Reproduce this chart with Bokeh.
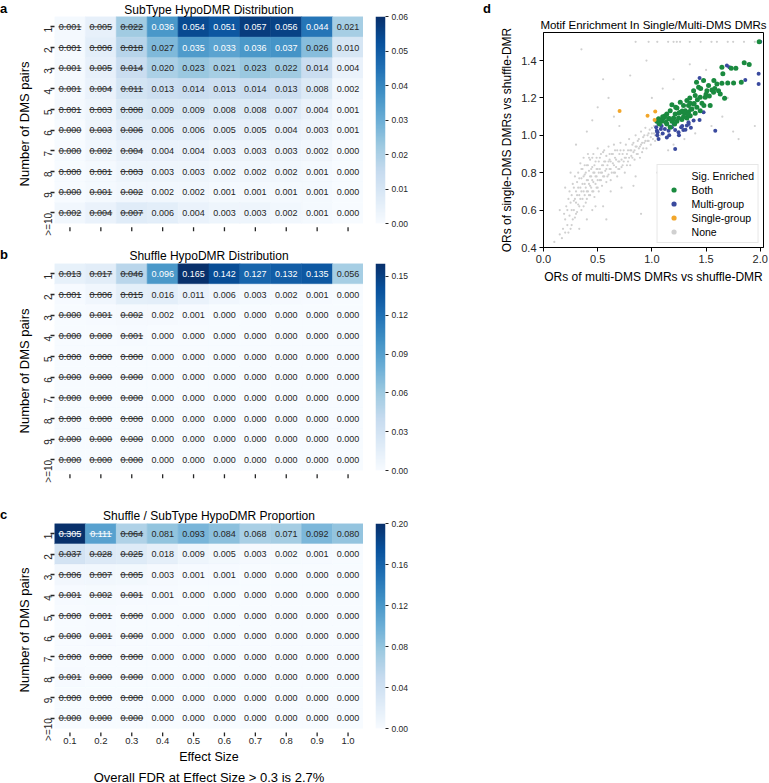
import numpy as np
from bokeh.plotting import figure
from bokeh.layouts import row, column
from bokeh.models import (ColumnDataSource, LinearColorMapper, FixedTicker, Div,
                          PrintfTickFormatter, Range1d, Title, Legend, LegendItem)
from bokeh.palettes import Blues256
from bokeh.transform import transform
from bokeh.embed import file_html
from bokeh.resources import INLINE
from bokeh.core.properties import value

# ---------------- data ----------------
effect_sizes = ["0.1", "0.2", "0.3", "0.4", "0.5", "0.6", "0.7", "0.8", "0.9", "1.0"]
struck_effect_sizes = ["0.1", "0.2", "0.3"]
dms_pairs = ["1", "2", "3", "4", "5", "6", "7", "8", "9", ">=10"]

subtype_vals = [
    [0.001, 0.005, 0.022, 0.036, 0.054, 0.051, 0.057, 0.056, 0.044, 0.021],
    [0.001, 0.006, 0.018, 0.027, 0.035, 0.033, 0.036, 0.037, 0.026, 0.010],
    [0.001, 0.005, 0.014, 0.020, 0.023, 0.021, 0.023, 0.022, 0.014, 0.004],
    [0.001, 0.004, 0.011, 0.013, 0.014, 0.013, 0.014, 0.013, 0.008, 0.002],
    [0.001, 0.003, 0.008, 0.009, 0.009, 0.008, 0.008, 0.007, 0.004, 0.001],
    [0.000, 0.003, 0.006, 0.006, 0.006, 0.005, 0.005, 0.004, 0.003, 0.001],
    [0.000, 0.002, 0.004, 0.004, 0.004, 0.003, 0.003, 0.003, 0.002, 0.000],
    [0.000, 0.001, 0.003, 0.003, 0.003, 0.002, 0.002, 0.002, 0.001, 0.000],
    [0.000, 0.001, 0.002, 0.002, 0.002, 0.001, 0.001, 0.001, 0.001, 0.000],
    [0.002, 0.004, 0.007, 0.006, 0.004, 0.003, 0.003, 0.002, 0.001, 0.000],
]
shuffle_vals = [
    [0.013, 0.017, 0.046, 0.096, 0.165, 0.142, 0.127, 0.132, 0.135, 0.056],
    [0.001, 0.006, 0.015, 0.016, 0.011, 0.006, 0.003, 0.002, 0.001, 0.000],
    [0.000, 0.001, 0.002, 0.002, 0.001, 0.000, 0.000, 0.000, 0.000, 0.000],
    [0.000, 0.000, 0.001, 0.000, 0.000, 0.000, 0.000, 0.000, 0.000, 0.000],
    [0.000, 0.000, 0.000, 0.000, 0.000, 0.000, 0.000, 0.000, 0.000, 0.000],
    [0.000, 0.000, 0.000, 0.000, 0.000, 0.000, 0.000, 0.000, 0.000, 0.000],
    [0.000, 0.000, 0.000, 0.000, 0.000, 0.000, 0.000, 0.000, 0.000, 0.000],
    [0.000, 0.000, 0.000, 0.000, 0.000, 0.000, 0.000, 0.000, 0.000, 0.000],
    [0.000, 0.000, 0.000, 0.000, 0.000, 0.000, 0.000, 0.000, 0.000, 0.000],
    [0.000, 0.000, 0.000, 0.000, 0.000, 0.000, 0.000, 0.000, 0.000, 0.000],
]
proportion_vals = [
    [0.305, 0.111, 0.064, 0.081, 0.093, 0.084, 0.068, 0.071, 0.092, 0.080],
    [0.037, 0.028, 0.025, 0.018, 0.009, 0.005, 0.003, 0.002, 0.001, 0.000],
    [0.006, 0.007, 0.005, 0.003, 0.001, 0.001, 0.000, 0.000, 0.000, 0.000],
    [0.001, 0.002, 0.001, 0.001, 0.000, 0.000, 0.000, 0.000, 0.000, 0.000],
    [0.000, 0.001, 0.000, 0.000, 0.000, 0.000, 0.000, 0.000, 0.000, 0.000],
    [0.000, 0.001, 0.000, 0.000, 0.000, 0.000, 0.000, 0.000, 0.000, 0.000],
    [0.000, 0.000, 0.000, 0.000, 0.000, 0.000, 0.000, 0.000, 0.000, 0.000],
    [0.001, 0.000, 0.000, 0.000, 0.000, 0.000, 0.000, 0.000, 0.000, 0.000],
    [0.000, 0.000, 0.000, 0.000, 0.000, 0.000, 0.000, 0.000, 0.000, 0.000],
    [0.000, 0.000, 0.000, 0.000, 0.000, 0.000, 0.000, 0.000, 0.000, 0.000],
]
subtype_vmax, shuffle_vmax, proportion_vmax = 0.06, 0.16, 0.20
subtype_cbar_ticks = [0.00, 0.01, 0.02, 0.03, 0.04, 0.05, 0.06]
shuffle_cbar_ticks = [0.00, 0.03, 0.06, 0.09, 0.12, 0.15]
proportion_cbar_ticks = [0.00, 0.04, 0.08, 0.12, 0.16, 0.20]

# scatter (d): (OR multi-DMS, OR single-DMS)
both_pts = [
    (1.99, 1.50), (1.646, 1.364), (1.732, 1.359), (1.775, 1.359), (1.852, 1.388), (1.898, 1.379),
    (1.655, 1.329), (1.572, 1.293), (1.60, 1.275), (1.646, 1.279), (1.754, 1.280), (1.825, 1.284),
    (1.412, 1.284), (1.431, 1.257), (1.477, 1.293), (1.523, 1.266), (1.554, 1.243), (1.508, 1.239),
    (1.569, 1.230), (1.615, 1.239), (1.385, 1.239), (1.40, 1.213), (1.446, 1.204), (1.492, 1.204),
    (1.631, 1.221), (1.671, 1.198), (1.538, 1.159), (1.323, 1.186), (1.354, 1.171), (1.338, 1.159),
    (1.385, 1.168), (1.415, 1.150), (1.462, 1.171), (1.369, 1.141), (1.292, 1.159), (1.262, 1.177),
    (1.231, 1.146), (1.185, 1.164), (1.308, 1.132), (1.338, 1.123), (1.262, 1.123), (1.215, 1.114),
    (1.169, 1.132), (1.138, 1.114), (1.446, 1.132), (1.40, 1.118), (1.354, 1.105), (1.292, 1.100),
    (1.246, 1.093), (1.20, 1.093), (1.154, 1.088), (1.108, 1.093), (1.062, 1.088), (1.046, 1.075),
    (1.092, 1.075), (1.185, 1.075), (1.231, 1.075), (1.138, 1.061), (1.169, 1.043), (1.277, 1.084),
    (1.323, 1.093), (1.123, 1.105), (1.077, 1.079), (1.50, 1.22), (1.58, 1.25), (1.70, 1.28),
    (1.35, 1.20), (1.28, 1.13), (1.22, 1.15), (1.16, 1.09), (1.10, 1.10), (1.25, 1.12), (1.42, 1.19),
    (1.48, 1.16), (1.36, 1.14), (1.30, 1.12), (1.19, 1.08), (1.13, 1.07), (1.07, 1.06), (1.21, 1.06),
    (1.33, 1.11), (1.39, 1.17), (1.53, 1.21), (1.45, 1.25),
]
multi_pts = [
    (2.00, 1.50), (1.44, 1.307), (1.692, 1.373), (1.715, 1.364), (1.862, 1.296), (1.985, 1.329),
    (1.985, 1.275), (1.04, 1.043), (1.046, 1.025), (1.052, 1.016), (1.06, 1.062), (1.083, 1.034),
    (1.12, 1.034), (1.154, 1.025), (1.185, 1.043), (1.215, 1.029), (1.246, 1.016), (1.29, 1.029),
    (1.323, 1.052), (1.338, 1.070), (1.27, 1.043), (1.385, 1.079), (1.138, 0.989), (1.062, 0.980),
    (1.215, 0.927), (1.585, 1.025), (1.44, 1.082), (1.477, 1.123), (1.13, 1.07), (1.20, 1.06),
    (1.10, 1.01), (1.16, 1.00), (1.28, 1.05), (1.36, 1.04), (1.05, 1.00), (1.09, 1.05), (1.25, 1.00),
    (1.31, 1.03), (1.34, 1.06),
]
single_pts = [(0.702, 1.130), (0.96, 1.105), (1.031, 1.127), (1.025, 1.082)]
none_pts = [
    (0.15, 0.47), (0.17, 0.45), (0.18, 0.50), (0.20, 0.48), (0.20, 0.55), (0.22, 0.52), (0.22, 0.60),
    (0.24, 0.57), (0.25, 0.50), (0.25, 0.64), (0.26, 0.68), (0.27, 0.55), (0.28, 0.60), (0.28, 0.72),
    (0.29, 0.66), (0.30, 0.58), (0.30, 0.70), (0.31, 0.75), (0.32, 0.63), (0.32, 0.80), (0.33, 0.68),
    (0.34, 0.72), (0.34, 0.85), (0.35, 0.60), (0.35, 0.77), (0.36, 0.66), (0.36, 0.82), (0.37, 0.70),
    (0.37, 0.88), (0.38, 0.74), (0.38, 0.79), (0.39, 0.64), (0.40, 0.70), (0.40, 0.84), (0.41, 0.76),
    (0.41, 0.90), (0.42, 0.68), (0.42, 0.81), (0.43, 0.73), (0.43, 0.87), (0.44, 0.78), (0.45, 0.70),
    (0.45, 0.83), (0.46, 0.75), (0.46, 0.90), (0.47, 0.67), (0.47, 0.80), (0.48, 0.86), (0.49, 0.72),
    (0.49, 0.78), (0.50, 0.82), (0.50, 0.93), (0.51, 0.70), (0.52, 0.76), (0.52, 0.88), (0.53, 0.80),
    (0.54, 0.84), (0.54, 0.73), (0.55, 0.91), (0.55, 0.78), (0.56, 0.86), (0.57, 0.81), (0.58, 0.75),
    (0.58, 0.89), (0.59, 0.84), (0.60, 0.79), (0.60, 0.94), (0.61, 0.87), (0.62, 0.82), (0.62, 0.76),
    (0.63, 0.90), (0.64, 0.85), (0.65, 0.80), (0.65, 0.95), (0.66, 0.88), (0.67, 0.83), (0.68, 0.92),
    (0.68, 0.78), (0.69, 0.86), (0.70, 0.90), (0.70, 0.82), (0.71, 0.96), (0.72, 0.87), (0.73, 0.84),
    (0.74, 0.92), (0.75, 0.88), (0.75, 0.80), (0.76, 0.95), (0.77, 0.90), (0.78, 0.86), (0.79, 0.98),
    (0.80, 0.92), (0.80, 0.84), (0.81, 0.89), (0.82, 0.95), (0.83, 0.91), (0.84, 0.87), (0.85, 1.00),
    (0.85, 0.94), (0.86, 0.90), (0.87, 0.97), (0.88, 0.93), (0.89, 0.88), (0.90, 1.02), (0.90, 0.95),
    (0.91, 0.91), (0.92, 0.99), (0.93, 0.96), (0.94, 1.04), (0.95, 0.93), (0.96, 1.00), (0.97, 0.97),
    (0.98, 1.03), (0.99, 0.95), (1.00, 1.01), (1.01, 0.98), (1.02, 1.05), (1.03, 1.00), (1.04, 1.03),
    (1.05, 0.99),
    (0.19, 0.58), (0.21, 0.62), (0.23, 0.48), (0.23, 0.66), (0.24, 0.70), (0.26, 0.52), (0.26, 0.60),
    (0.27, 0.74), (0.28, 0.65), (0.29, 0.56), (0.29, 0.78), (0.30, 0.64), (0.31, 0.68), (0.31, 0.59),
    (0.32, 0.72), (0.33, 0.77), (0.33, 0.62), (0.34, 0.66), (0.35, 0.70), (0.35, 0.82), (0.36, 0.74),
    (0.37, 0.62), (0.37, 0.78), (0.38, 0.68), (0.38, 0.84), (0.39, 0.72), (0.39, 0.80), (0.40, 0.76),
    (0.40, 0.66), (0.41, 0.70), (0.41, 0.84), (0.42, 0.74), (0.42, 0.88), (0.43, 0.78), (0.43, 0.68),
    (0.44, 0.82), (0.44, 0.72), (0.45, 0.76), (0.45, 0.88), (0.46, 0.80), (0.46, 0.70), (0.47, 0.84),
    (0.48, 0.74), (0.48, 0.78), (0.49, 0.82), (0.49, 0.88), (0.50, 0.76), (0.50, 0.72), (0.51, 0.80),
    (0.51, 0.86), (0.52, 0.82), (0.53, 0.76), (0.53, 0.90), (0.54, 0.80), (0.55, 0.84), (0.56, 0.78),
    (0.56, 0.92), (0.57, 0.86), (0.58, 0.82), (0.59, 0.78), (0.60, 0.86), (0.61, 0.82), (0.61, 0.90),
    (0.62, 0.86), (0.63, 0.80), (0.64, 0.90), (0.65, 0.84), (0.66, 0.80), (0.66, 0.92), (0.67, 0.87),
    (0.69, 0.82), (0.70, 0.86), (0.71, 0.92), (0.72, 0.83), (0.73, 0.90), (0.74, 0.86), (0.76, 0.88),
    (0.77, 0.84), (0.78, 0.92), (0.79, 0.88), (0.81, 0.92), (0.82, 0.88), (0.83, 0.96), (0.84, 0.92),
    (0.86, 0.94), (0.87, 0.90), (0.88, 0.98), (0.89, 0.94), (0.91, 0.96), (0.92, 0.93), (0.93, 1.00),
    (0.94, 0.97), (0.96, 0.97), (0.97, 1.01), (0.99, 0.99), (1.00, 1.04), (1.02, 1.01), (1.03, 0.97),
    (1.06, 1.02), (1.08, 1.00),
    (0.10, 0.43), (0.30, 0.95), (0.40, 1.02), (0.45, 1.08), (0.50, 1.15), (0.55, 1.30), (0.35, 1.46),
    (0.60, 1.20), (0.70, 1.05), (0.48, 0.62), (0.62, 0.70), (0.72, 0.72), (0.85, 0.78), (0.90, 0.58),
    (1.05, 0.80), (0.83, 0.73), (1.15, 0.92), (1.20, 0.95), (1.30, 0.98), (1.40, 1.01), (1.55, 1.05),
    (1.65, 1.10), (1.75, 1.02), (1.80, 0.98), (1.95, 1.05), (1.70, 1.20), (1.50, 1.35), (1.35, 1.38),
    (1.20, 1.30), (1.10, 1.25), (1.00, 1.20), (0.95, 1.40), (0.80, 1.32), (0.65, 1.10), (0.25, 0.80),
    (0.20, 0.72), (0.15, 0.60), (0.55, 0.62), (0.58, 0.55), (0.40, 0.55), (0.33, 0.50), (0.45, 0.60),
    (0.85, 1.50), (0.97, 1.50), (1.05, 1.50), (1.15, 1.50), (1.20, 1.50), (1.23, 1.50), (1.26, 1.50),
    (1.35, 1.50), (1.45, 1.50), (1.55, 1.50), (1.60, 1.50), (1.70, 1.50), (1.75, 1.50), (1.85, 1.50),
    (1.95, 1.50),
]
scatter_xticks = [0.0, 0.5, 1.0, 1.5, 2.0]
scatter_yticks = [0.4, 0.6, 0.8, 1.0, 1.2, 1.4]

# ---------------- styling helpers ----------------
FONT = "Liberation Sans"
DARK = "#262626"
PAL = list(Blues256[::-1])
LEFT_DIV_W = 8
STRIP = 0.4          # white strip below the cells (in row units) holding the x tick marks
TICK_GAP = 0.2       # tick marks start this far below the last row


def text_color(v, vmax):
    idx = int(np.clip(v / vmax, 0, 1) * (len(PAL) - 1))
    h = PAL[idx]
    rgb = [int(h[i:i + 2], 16) / 255 for i in (1, 3, 5)]
    lin = [c / 12.92 if c <= 0.03928 else ((c + 0.055) / 1.055) ** 2.4 for c in rgb]
    lum = 0.2126 * lin[0] + 0.7152 * lin[1] + 0.0722 * lin[2]
    return DARK if lum > 0.408 else "#ffffff"


def letter_div(txt, width, height, pad_left=0):
    return Div(text=f"<div style='padding-left:{pad_left}px;line-height:13px'>{txt}</div>",
               width=width, height=height, margin=(0, 0, 0, 0),
               styles={"font-family": FONT, "font-size": "13px", "font-weight": "bold",
                       "color": "black", "overflow": "visible"})


def style_axis(ax, label_size="10px"):
    ax.axis_line_color = None
    ax.major_tick_in = 0
    ax.major_tick_out = 4
    ax.major_tick_line_color = DARK
    ax.major_tick_line_width = 1.3
    ax.minor_tick_line_color = None
    ax.major_label_text_font = FONT
    ax.major_label_text_font_size = label_size
    ax.major_label_text_color = DARK
    ax.major_label_standoff = 2
    ax.axis_label_text_font = FONT
    ax.axis_label_text_font_size = "13px"
    ax.axis_label_text_font_style = "normal"
    ax.axis_label_text_color = "black"
    ax.axis_label_standoff = 3


def heatmap(vals, title, vmax, cticks, cells_h, top, bottom, show_xlabels, title_standoff):
    ncol, nrow = len(effect_sizes), len(dms_pairs)
    frame_h = int(round(cells_h * (nrow + STRIP) / nrow))
    p = figure(frame_width=309, frame_height=frame_h,
               x_range=Range1d(0, ncol), y_range=Range1d(nrow + STRIP, 0),
               output_backend="svg", toolbar_location=None,
               min_border_left=46, min_border_right=0, min_border_top=top,
               min_border_bottom=bottom)
    p.title.text = title
    p.title.align = "center"
    p.title.text_font = FONT
    p.title.text_font_size = "12px"
    p.title.text_font_style = "normal"
    p.title.text_color = "black"
    p.title.standoff = title_standoff

    xs, ys, vs, labels, tcs = [], [], [], [], []
    sx0, sx1, sy, sc = [], [], [], []
    for i, rlab in enumerate(dms_pairs):
        for j, clab in enumerate(effect_sizes):
            v = vals[i][j]
            tc = text_color(v, vmax)
            xs.append(j + 0.5)
            ys.append(i + 0.5)
            vs.append(v)
            labels.append(f"{v:.3f}")
            tcs.append(tc)
            if clab in struck_effect_sizes:
                sx0.append(j + 0.5 - 0.37)
                sx1.append(j + 0.5 + 0.37)
                sy.append(i + 0.5)
                sc.append(tc)
    src = ColumnDataSource(dict(x=xs, y=ys, v=vs, label=labels, tc=tcs))
    mapper = LinearColorMapper(palette=PAL, low=0, high=vmax)
    p.rect(x="x", y="y", width=1, height=1, source=src,
           fill_color=transform("v", mapper), line_color=transform("v", mapper), line_width=0.6)
    p.text(x="x", y="y", text="label", source=src, text_color="tc", text_align="center",
           text_baseline="middle", text_font=value(FONT), text_font_size="9px")
    p.segment(x0="x0", y0="y", x1="x1", y1="y", line_color="c", line_width=0.9,
              source=ColumnDataSource(dict(x0=sx0, x1=sx1, y=sy, c=sc)))

    # x tick marks, drawn a little below the cells (as in the seaborn heatmap)
    tick_x = [j + 0.5 for j in range(ncol)]
    p.segment(x0=tick_x, x1=tick_x, y0=[nrow + TICK_GAP] * ncol, y1=[nrow + STRIP] * ncol,
              line_color=DARK, line_width=1.3)

    p.yaxis.ticker = FixedTicker(ticks=[i + 0.5 for i in range(nrow)])
    p.yaxis.major_label_overrides = {i + 0.5: lab for i, lab in enumerate(dms_pairs)}
    p.yaxis.major_label_orientation = np.pi / 2
    p.yaxis.axis_label = "Number of DMS pairs"
    style_axis(p.yaxis[0], "10px")
    if show_xlabels:
        p.xaxis.ticker = FixedTicker(ticks=tick_x)
        p.xaxis.major_label_overrides = {j + 0.5: lab for j, lab in enumerate(effect_sizes)}
        style_axis(p.xaxis[0], "9.5px")
        p.xaxis.major_tick_out = 0
        p.xaxis.major_tick_line_color = None
        p.xaxis.major_label_standoff = 1
        p.xaxis.axis_label = "Effect Size"
        p.xaxis.axis_label_text_font_size = "12.5px"
        p.xaxis.axis_label_standoff = 3
    else:
        p.xaxis.visible = False
    p.grid.visible = False
    p.outline_line_color = None

    # colour bar as a narrow companion figure using the same colour mapper
    cb_h = int(round(frame_h * nrow / (nrow + STRIP)))
    cb = figure(frame_width=10, frame_height=cb_h, x_range=Range1d(0, 1),
                y_range=Range1d(0, vmax), output_backend="svg", toolbar_location=None,
                min_border_left=12, min_border_right=35, min_border_top=top,
                min_border_bottom=bottom + frame_h - cb_h, x_axis_location=None,
                y_axis_location="right")
    grad = np.linspace(0, vmax, len(PAL)).reshape(len(PAL), 1)
    cb.image(image=[grad], x=0, y=0, dw=1, dh=vmax, color_mapper=mapper)
    cb.yaxis.ticker = FixedTicker(ticks=cticks)
    cb.yaxis.formatter = PrintfTickFormatter(format="%.2f")
    style_axis(cb.yaxis[0], "8.5px")
    cb.yaxis.major_tick_out = 3
    cb.yaxis.major_tick_line_width = 1
    cb.yaxis.major_label_standoff = 3
    cb.grid.visible = False
    cb.outline_line_color = None
    return p, cb


pa, cba = heatmap(subtype_vals, "SubType HypoDMR Distribution", subtype_vmax,
                  subtype_cbar_ticks, 207, 15, 15, False, 0)
pb, cbb = heatmap(shuffle_vals, "Shuffle HypoDMR Distribution", shuffle_vmax,
                  shuffle_cbar_ticks, 207, 17, 28, False, 1)
pc, cbc = heatmap(proportion_vals, "Shuffle / SubType HypoDMR Proportion", proportion_vmax,
                  proportion_cbar_ticks, 205, 17, 46, True, 1)
pc.add_layout(Title(text="Overall FDR at Effect Size > 0.3 is 2.7%", align="center",
                    text_font=FONT, text_font_size="13px", text_font_style="normal",
                    text_color="black", standoff=2), "below")

# ---------------- scatter (d) ----------------
pd_ = figure(frame_width=220, frame_height=215, x_range=Range1d(0, 2.03),
             y_range=Range1d(0.4, 1.55), output_backend="svg", toolbar_location=None,
             min_border_left=52, min_border_right=5, min_border_top=32, min_border_bottom=38)
pd_.title.text = "Motif Enrichment In Single/Multi-DMS DMRs"
pd_.title.align = "center"
pd_.title.text_font = FONT
pd_.title.text_font_size = "11.5px"
pd_.title.text_font_style = "normal"
pd_.title.text_color = "black"
pd_.title.standoff = 4


def xy(pts):
    return [q[0] for q in pts], [q[1] for q in pts]


nx, ny = xy(none_pts)
mx, my = xy(multi_pts)
bx, by = xy(both_pts)
sx, sy_ = xy(single_pts)
r_none = pd_.scatter(nx, ny, size=2.2, fill_color="#d0d0d0", line_color=None)
r_multi = pd_.scatter(mx, my, size=4, fill_color="#3a4a9e", line_color=None)
r_both = pd_.scatter(bx, by, size=5, fill_color="#1a8a3f", line_color=None)
r_single = pd_.scatter(sx, sy_, size=4, fill_color="#f2a62a", line_color=None)
r_head = pd_.scatter([], [], size=1, fill_alpha=0, line_alpha=0)

legend = Legend(items=[LegendItem(label="Sig. Enriched", renderers=[r_head]),
                       LegendItem(label="Both", renderers=[r_both]),
                       LegendItem(label="Multi-group", renderers=[r_multi]),
                       LegendItem(label="Single-group", renderers=[r_single]),
                       LegendItem(label="None", renderers=[r_none])],
                location="bottom_right", label_text_font=FONT, label_text_font_size="10.5px",
                label_text_color="black", border_line_color="#d0d0d0", border_line_width=1,
                background_fill_alpha=0.9, glyph_width=24, glyph_height=13, spacing=1,
                padding=4, margin=4, label_standoff=6, label_height=13)
pd_.add_layout(legend)

pd_.xaxis.ticker = FixedTicker(ticks=scatter_xticks)
pd_.yaxis.ticker = FixedTicker(ticks=scatter_yticks)
pd_.xaxis.formatter = PrintfTickFormatter(format="%.1f")
pd_.yaxis.formatter = PrintfTickFormatter(format="%.1f")
pd_.xaxis.axis_label = "ORs of multi-DMS DMRs vs shuffle-DMR"
pd_.yaxis.axis_label = "ORs of single-DMS DMRs vs shuffle-DMR"
for ax in (pd_.xaxis[0], pd_.yaxis[0]):
    ax.axis_line_color = "black"
    ax.major_tick_in = 0
    ax.major_tick_out = 4
    ax.major_tick_line_color = "black"
    ax.minor_tick_line_color = None
    ax.major_label_text_font = FONT
    ax.major_label_text_font_size = "11px"
    ax.major_label_text_color = DARK
    ax.major_label_standoff = 3
    ax.axis_label_text_font = FONT
    ax.axis_label_text_font_size = "12px"
    ax.axis_label_text_font_style = "normal"
    ax.axis_label_text_color = "black"
    ax.axis_label_standoff = 4
pd_.grid.visible = False
pd_.outline_line_color = "black"
pd_.outline_line_width = 1

left_col = column(row(letter_div("a", LEFT_DIV_W, 14), pa, cba),
                  row(letter_div("b", LEFT_DIV_W, 14), pb, cbb),
                  row(letter_div("c", LEFT_DIV_W, 14), pc, cbc))
right_part = row(letter_div("d", 71, 14, pad_left=63), pd_)
layout = row(left_col, right_part)
open("out.html", "w").write(file_html(layout, INLINE))
